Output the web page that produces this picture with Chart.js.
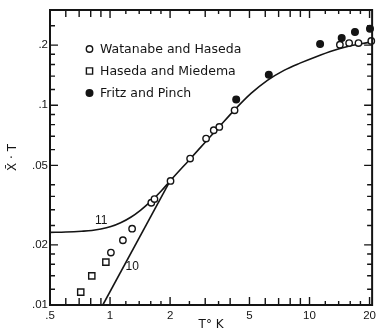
<!DOCTYPE html>
<html>
<head>
<meta charset="utf-8">
<script src="https://cdn.jsdelivr.net/npm/chart.js@4.4.1/dist/chart.umd.min.js"></script>
<style>
  html, body { margin: 0; padding: 0; background: #fff; }
  #wrap { width: 380px; height: 331px; position: relative; }
</style>
</head>
<body>
<div id="wrap"><canvas id="chart"></canvas></div>
<script>
// temperature (K) and chi*T
const watanabeT = [1.01, 1.16, 1.29, 1.61, 1.67, 2.01, 2.52, 3.03, 3.31, 3.53, 4.21, 14.2, 15.8, 17.6, 20.4];
const watanabeChiT = [0.0183, 0.0211, 0.0241, 0.0325, 0.0339, 0.0418, 0.0541, 0.0681, 0.0750, 0.0779, 0.0944, 0.201, 0.205, 0.205, 0.210];

const hasedaT = [0.713, 0.81, 0.953];
const hasedaChiT = [0.0116, 0.0140, 0.0164];

const fritzT = [4.29, 6.25, 11.3, 14.5, 16.9, 20.1];
const fritzChiT = [0.107, 0.142, 0.2025, 0.217, 0.233, 0.242];

// theory curves: curve 11 runs across the whole range, curve 10 is the straight low-T line
const curve11T = [0.5, 0.6, 0.72, 0.81, 0.9, 1.01, 1.13, 1.27, 1.42, 1.6, 1.8, 2.0, 2.5, 3.0, 3.5, 4.2, 5.09, 6.15, 7.45, 8.96, 10.8, 13.06, 15.7, 17.6, 20.6];
const curve11ChiT = [0.0231, 0.0232, 0.0234, 0.0236, 0.0240, 0.0247, 0.0258, 0.0275, 0.0298, 0.0330, 0.0371, 0.0418, 0.0534, 0.0653, 0.0774, 0.0946, 0.1146, 0.1333, 0.1496, 0.1626, 0.1752, 0.1876, 0.1976, 0.2021, 0.2080];
const curve10T = [0.92, 2.0];
const curve10ChiT = [0.01, 0.0418];

const curveNames = ['11', '10'];
const curveNameT = [0.903, 1.292];
const curveNameChiT = [0.0263, 0.01554];

// axes
const tLabels = [0.5, 1, 2, 5, 10, 20];
const tLong = [0.6, 0.7, 0.8, 0.9, 3, 4, 6, 7, 8, 9];
const tShort = [1.2, 1.4, 1.6, 1.8, 2.5, 3.5, 12, 14, 16, 18];
const chiTLabels = [0.01, 0.02, 0.05, 0.1, 0.2];
const chiTMinor = [0.012, 0.014, 0.016, 0.018, 0.025, 0.03, 0.035, 0.04, 0.06, 0.07, 0.08, 0.09, 0.12, 0.14, 0.16, 0.18, 0.25];

const INK = '#141414';
const pts = (xs, ys) => xs.map((x, i) => ({ x, y: ys[i] }));
const fmt = v => v < 1 ? String(v).replace(/^0/, '') : String(v);

const frameTicks = {
  id: 'frameTicks',
  afterDatasetsDraw(chart) {
    const { ctx, chartArea: { left, right, top, bottom }, scales: { x, y } } = chart;
    ctx.save();
    ctx.strokeStyle = INK;
    ctx.lineWidth = 1.4;
    ctx.beginPath();
    const xt = (v, len) => {
      const px = x.getPixelForValue(v);
      ctx.moveTo(px, bottom); ctx.lineTo(px, bottom - len);
      ctx.moveTo(px, top); ctx.lineTo(px, top + len);
    };
    const yt = (v, len) => {
      const py = y.getPixelForValue(v);
      ctx.moveTo(left, py); ctx.lineTo(left + len, py);
      ctx.moveTo(right, py); ctx.lineTo(right - len, py);
    };
    tLabels.forEach(v => xt(v, 8));
    tLong.forEach(v => xt(v, 7));
    tShort.forEach(v => xt(v, 4));
    chiTLabels.forEach(v => yt(v, 8));
    chiTMinor.forEach(v => yt(v, 5));
    ctx.stroke();
    ctx.lineWidth = 2;
    ctx.strokeRect(left, top, right - left, bottom - top);

    // curve numbers
    ctx.fillStyle = INK;
    ctx.font = '12px "Liberation Sans"';
    ctx.textAlign = 'center';
    ctx.textBaseline = 'middle';
    curveNames.forEach((n, i) => {
      ctx.fillText(n, x.getPixelForValue(curveNameT[i]), y.getPixelForValue(curveNameChiT[i]));
    });

    // legend inside the plot
    ctx.font = '12.5px "DejaVu Sans"';
    ctx.textAlign = 'left';
    let row = 0;
    chart.data.datasets.forEach(ds => {
      if (!ds.label) return;
      const cy = 49 + row * 22;
      ctx.fillStyle = ds.pointBackgroundColor;
      ctx.strokeStyle = INK;
      ctx.lineWidth = ds.pointBorderWidth;
      Chart.helpers.drawPoint(ctx, { pointStyle: ds.pointStyle, radius: ds.pointRadius, borderWidth: ds.pointBorderWidth, rotation: 0 }, 89.5, cy);
      ctx.fillStyle = INK;
      ctx.fillText(ds.label, 100, cy + 0.5);
      row++;
    });
    ctx.restore();
  }
};

const marker = (label, data, style, fill, r) => ({
  label, data,
  showLine: false,
  pointStyle: style,
  pointRadius: r,
  pointBackgroundColor: fill,
  pointBorderColor: INK,
  pointBorderWidth: 1.4,
  clip: 8,
  order: 0
});

const curve = (data, smooth) => ({
  data,
  showLine: true,
  borderColor: INK,
  borderWidth: 1.6,
  pointRadius: 0,
  cubicInterpolationMode: smooth ? 'monotone' : 'default',
  tension: smooth ? 0.4 : 0,
  fill: false,
  order: 1
});

new Chart(document.getElementById('chart'), {
  type: 'scatter',
  plugins: [frameTicks],
  data: {
    datasets: [
      marker('Watanabe and Haseda', pts(watanabeT, watanabeChiT), 'circle', '#fff', 3.2),
      marker('Haseda and Miedema', pts(hasedaT, hasedaChiT), 'rect', '#fff', 4.4),
      marker('Fritz and Pinch', pts(fritzT, fritzChiT), 'circle', INK, 3.3),
      curve(pts(curve11T, curve11ChiT), true),
      curve(pts(curve10T, curve10ChiT), false)
    ]
  },
  options: {
    responsive: true,
    maintainAspectRatio: false,
    animation: false,
    layout: { padding: { top: 10, right: 3, left: 0, bottom: 0 } },
    plugins: { legend: { display: false }, tooltip: { enabled: false } },
    scales: {
      x: {
        type: 'logarithmic',
        min: 0.5, max: 20.6,
        afterBuildTicks: s => { s.ticks = tLabels.map(v => ({ value: v })); },
        afterFit: s => { s.height = 26; },
        grid: { display: false, drawTicks: false },
        border: { display: false },
        ticks: {
          color: INK, padding: 4, maxRotation: 0, autoSkip: false,
          font: { family: '"Liberation Sans"', size: 11.5 },
          callback: v => fmt(v)
        },
        title: {
          display: true, text: 'T° K', color: INK, padding: 0,
          font: { family: '"DejaVu Sans"', size: 12, lineHeight: 1 }
        }
      },
      y: {
        type: 'logarithmic',
        min: 0.01, max: 0.3,
        afterBuildTicks: s => { s.ticks = chiTLabels.map(v => ({ value: v })); },
        afterFit: s => { s.width = 50; },
        grid: { display: false, drawTicks: false },
        border: { display: false },
        ticks: {
          color: INK, padding: 2, autoSkip: false,
          font: { family: '"Liberation Sans"', size: 11.5 },
          callback: v => fmt(v)
        },
        title: {
          display: true, text: 'X̄ · T', color: INK, padding: { top: 6, bottom: 0 },
          font: { family: '"DejaVu Sans"', size: 12 }
        }
      }
    }
  }
});
</script>
</body>
</html>
